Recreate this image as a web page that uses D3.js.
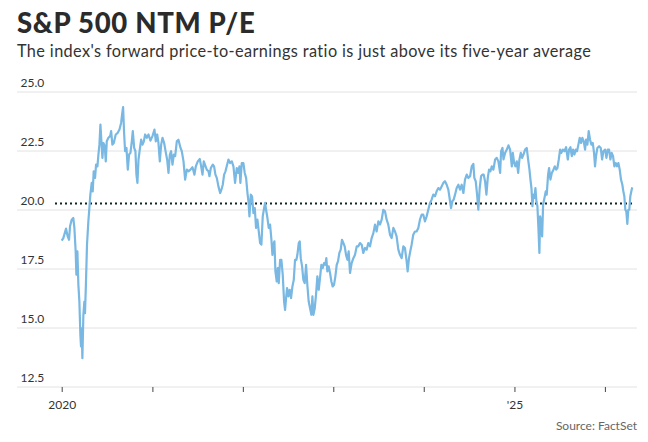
<!DOCTYPE html>
<html>
<head>
<meta charset="utf-8">
<script src="https://cdn.jsdelivr.net/npm/d3@7"></script>
<style>
    body { margin: 0; background: #fff; }
    svg { display: block; font-family: Lato, 'Open Sans', sans-serif; }
</style>
</head>
<body>
<div id="chart"></div>
<script>
const chartTitle = 'S&P 500 NTM P/E';
const chartSubtitle = "The index's forward price-to-earnings ratio is just above its five-year average";
const sourceNote = 'Source: FactSet';

const yTicks = [12.5, 15, 17.5, 20, 22.5, 25];
const xTickYears = [2020, 2021, 2022, 2023, 2024, 2025, 2026];
const xLabelYears = { 2020: '2020', 2025: "'25" };
const fiveYearAvg = 20.28;

// [decimal year, forward P/E]
const peSeries = [
    [2020.000, 18.70], [2020.018, 18.81], [2020.048, 19.21], [2020.066, 18.88], [2020.081, 18.74],
    [2020.092, 19.31], [2020.110, 19.59], [2020.128, 19.66], [2020.140, 19.24], [2020.154, 18.25],
    [2020.162, 17.26], [2020.173, 18.25], [2020.184, 16.83], [2020.195, 16.12], [2020.206, 14.71],
    [2020.213, 14.22], [2020.221, 14.99], [2020.228, 13.72], [2020.239, 15.56], [2020.250, 16.12],
    [2020.257, 15.63], [2020.268, 16.97], [2020.279, 18.53], [2020.294, 19.52], [2020.305, 20.08],
    [2020.316, 20.65], [2020.331, 21.15], [2020.342, 20.79], [2020.353, 21.64], [2020.368, 21.36],
    [2020.379, 21.92], [2020.394, 21.85], [2020.405, 22.35], [2020.416, 22.77], [2020.427, 23.62],
    [2020.438, 22.91], [2020.449, 22.21], [2020.460, 22.84], [2020.475, 22.70], [2020.486, 22.06],
    [2020.497, 22.91], [2020.515, 23.06], [2020.534, 23.13], [2020.545, 23.34], [2020.559, 22.77],
    [2020.574, 22.84], [2020.596, 23.20], [2020.618, 23.27], [2020.637, 23.41], [2020.655, 23.69],
    [2020.666, 24.05], [2020.677, 24.36], [2020.688, 23.27], [2020.699, 22.49], [2020.714, 22.63],
    [2020.729, 21.71], [2020.743, 22.35], [2020.758, 22.42], [2020.773, 22.91], [2020.784, 23.34],
    [2020.799, 22.63], [2020.813, 22.49], [2020.824, 21.50], [2020.835, 21.15], [2020.847, 22.14],
    [2020.861, 22.56], [2020.876, 22.98], [2020.891, 22.77], [2020.906, 22.91], [2020.920, 23.20],
    [2020.939, 23.06], [2020.957, 23.20], [2020.979, 22.94], [2021.001, 23.13], [2021.023, 23.41],
    [2021.038, 22.91], [2021.053, 23.20], [2021.067, 22.84], [2021.082, 22.06], [2021.097, 22.77],
    [2021.112, 23.06], [2021.130, 22.84], [2021.149, 22.42], [2021.163, 22.14], [2021.178, 21.57],
    [2021.193, 22.35], [2021.207, 22.49], [2021.222, 21.92], [2021.237, 22.35], [2021.252, 22.28],
    [2021.270, 22.91], [2021.288, 22.98], [2021.311, 22.63], [2021.325, 22.49], [2021.344, 22.06],
    [2021.362, 21.29], [2021.381, 21.71], [2021.399, 21.64], [2021.421, 21.71], [2021.443, 21.81],
    [2021.465, 21.50], [2021.480, 21.85], [2021.502, 22.06], [2021.524, 22.16], [2021.539, 21.85],
    [2021.554, 21.50], [2021.568, 22.06], [2021.601, 21.71], [2021.620, 21.64], [2021.631, 21.43],
    [2021.646, 21.78], [2021.668, 21.92], [2021.682, 21.85], [2021.697, 21.50], [2021.712, 21.36],
    [2021.730, 21.00], [2021.749, 20.72], [2021.763, 20.86], [2021.778, 21.07], [2021.793, 21.50],
    [2021.808, 21.64], [2021.822, 21.85], [2021.841, 22.14], [2021.859, 21.99], [2021.878, 22.06],
    [2021.896, 21.85], [2021.914, 21.15], [2021.933, 21.78], [2021.948, 21.57], [2021.962, 21.85],
    [2021.973, 21.15], [2021.988, 21.99], [2022.006, 21.99], [2022.021, 21.57], [2022.036, 21.36],
    [2022.051, 20.72], [2022.062, 20.37], [2022.073, 19.73], [2022.088, 20.65], [2022.102, 20.58],
    [2022.117, 19.87], [2022.132, 20.08], [2022.146, 19.24], [2022.161, 19.59], [2022.176, 19.09],
    [2022.191, 18.60], [2022.205, 18.53], [2022.220, 19.73], [2022.235, 20.08], [2022.246, 20.30],
    [2022.257, 20.01], [2022.272, 19.66], [2022.286, 19.24], [2022.301, 19.38], [2022.316, 18.74],
    [2022.327, 18.10], [2022.338, 18.53], [2022.349, 18.67], [2022.360, 17.40], [2022.375, 16.97],
    [2022.386, 17.54], [2022.397, 16.90], [2022.412, 17.89], [2022.426, 17.89], [2022.441, 17.26],
    [2022.456, 16.12], [2022.467, 15.77], [2022.478, 16.27], [2022.489, 16.69], [2022.504, 16.34],
    [2022.518, 16.62], [2022.533, 16.27], [2022.548, 16.76], [2022.563, 17.04], [2022.577, 17.89],
    [2022.592, 17.89], [2022.603, 18.10], [2022.618, 18.60], [2022.629, 18.67], [2022.640, 17.96],
    [2022.655, 17.61], [2022.669, 17.04], [2022.684, 16.90], [2022.699, 17.68], [2022.713, 16.83],
    [2022.728, 16.12], [2022.743, 15.84], [2022.758, 15.56], [2022.769, 16.34], [2022.780, 15.56],
    [2022.795, 15.84], [2022.809, 16.41], [2022.824, 17.19], [2022.839, 16.62], [2022.853, 17.11],
    [2022.868, 17.68], [2022.883, 17.54], [2022.898, 17.75], [2022.912, 17.68], [2022.923, 17.96],
    [2022.934, 17.40], [2022.949, 17.61], [2022.964, 17.33], [2022.979, 16.97], [2022.993, 16.76],
    [2023.008, 16.83], [2023.023, 17.19], [2023.038, 17.68], [2023.052, 17.82], [2023.067, 18.18],
    [2023.082, 18.32], [2023.096, 18.74], [2023.111, 18.60], [2023.126, 18.46], [2023.141, 18.10],
    [2023.156, 17.89], [2023.170, 18.25], [2023.185, 17.33], [2023.203, 17.75], [2023.222, 17.96],
    [2023.240, 18.10], [2023.259, 18.46], [2023.277, 18.46], [2023.295, 18.60], [2023.314, 18.53],
    [2023.332, 18.18], [2023.351, 18.39], [2023.369, 18.32], [2023.387, 18.60], [2023.406, 18.46],
    [2023.424, 18.81], [2023.443, 19.02], [2023.461, 19.38], [2023.479, 19.09], [2023.498, 19.52],
    [2023.516, 19.38], [2023.535, 19.59], [2023.553, 20.01], [2023.572, 19.94], [2023.590, 19.59],
    [2023.608, 19.38], [2023.627, 18.95], [2023.645, 18.81], [2023.664, 19.24], [2023.682, 19.09],
    [2023.700, 18.88], [2023.719, 18.32], [2023.737, 18.10], [2023.756, 17.96], [2023.774, 18.46],
    [2023.792, 18.39], [2023.811, 17.82], [2023.822, 17.40], [2023.837, 17.96], [2023.851, 18.25],
    [2023.866, 18.53], [2023.884, 18.95], [2023.903, 19.09], [2023.921, 19.09], [2023.940, 19.24],
    [2023.958, 19.59], [2023.977, 19.80], [2023.995, 19.80], [2024.013, 19.52], [2024.032, 19.73],
    [2024.050, 20.01], [2024.069, 20.30], [2024.087, 20.44], [2024.105, 20.65], [2024.124, 20.58],
    [2024.142, 20.79], [2024.161, 20.93], [2024.179, 20.86], [2024.197, 21.00], [2024.216, 21.15],
    [2024.234, 21.22], [2024.253, 21.07], [2024.271, 20.86], [2024.290, 20.37], [2024.301, 20.08],
    [2024.315, 20.37], [2024.330, 20.44], [2024.345, 20.65], [2024.363, 20.93], [2024.382, 21.07],
    [2024.400, 20.86], [2024.418, 21.07], [2024.437, 20.72], [2024.455, 21.29], [2024.474, 21.50],
    [2024.492, 21.36], [2024.511, 21.43], [2024.529, 21.85], [2024.547, 21.95], [2024.558, 21.36],
    [2024.573, 21.22], [2024.588, 20.65], [2024.602, 20.01], [2024.617, 20.93], [2024.632, 21.43],
    [2024.647, 21.50], [2024.661, 21.50], [2024.676, 21.22], [2024.691, 20.65], [2024.706, 21.36],
    [2024.720, 21.71], [2024.735, 21.64], [2024.750, 21.85], [2024.768, 21.71], [2024.787, 22.14],
    [2024.805, 22.21], [2024.823, 22.06], [2024.842, 21.57], [2024.853, 22.49], [2024.868, 22.63],
    [2024.879, 22.14], [2024.897, 22.42], [2024.916, 22.56], [2024.934, 22.74], [2024.952, 22.56],
    [2024.971, 21.85], [2024.982, 22.42], [2024.997, 21.99], [2025.011, 21.85], [2025.026, 22.06],
    [2025.041, 21.57], [2025.055, 22.14], [2025.070, 22.42], [2025.085, 22.21], [2025.100, 22.35],
    [2025.118, 22.56], [2025.136, 22.63], [2025.151, 22.14], [2025.166, 21.71], [2025.177, 21.29],
    [2025.188, 20.93], [2025.199, 20.16], [2025.210, 20.65], [2025.221, 20.51], [2025.232, 20.93],
    [2025.243, 20.37], [2025.254, 20.16], [2025.265, 19.24], [2025.276, 18.18], [2025.284, 19.73],
    [2025.295, 19.52], [2025.306, 18.88], [2025.317, 20.23], [2025.332, 20.51], [2025.346, 20.79],
    [2025.357, 20.65], [2025.372, 21.50], [2025.383, 21.78], [2025.398, 21.29], [2025.413, 21.57],
    [2025.431, 21.71], [2025.446, 21.85], [2025.461, 21.71], [2025.475, 21.78], [2025.490, 22.14],
    [2025.505, 22.56], [2025.519, 22.42], [2025.534, 22.56], [2025.553, 22.49], [2025.571, 22.66],
    [2025.590, 22.14], [2025.604, 22.56], [2025.619, 22.66], [2025.634, 22.28], [2025.648, 22.56],
    [2025.663, 22.35], [2025.678, 22.56], [2025.692, 22.49], [2025.707, 22.77], [2025.722, 23.06],
    [2025.737, 22.84], [2025.751, 23.06], [2025.766, 22.91], [2025.781, 22.56], [2025.792, 22.98],
    [2025.807, 22.77], [2025.821, 23.34], [2025.836, 22.98], [2025.851, 22.77], [2025.866, 22.84],
    [2025.880, 22.42], [2025.891, 21.85], [2025.902, 22.28], [2025.917, 22.63], [2025.936, 22.70],
    [2025.954, 22.63], [2025.969, 22.14], [2025.983, 22.49], [2026.002, 22.56], [2026.017, 22.21],
    [2026.031, 22.56], [2026.046, 22.56], [2026.061, 22.14], [2026.075, 22.42], [2026.090, 22.28],
    [2026.105, 21.85], [2026.120, 21.99], [2026.134, 21.85], [2026.149, 21.99], [2026.164, 21.71],
    [2026.178, 21.29], [2026.193, 21.07], [2026.204, 20.79], [2026.215, 20.58], [2026.226, 20.01],
    [2026.237, 19.94], [2026.248, 19.41], [2026.259, 20.01], [2026.270, 20.01], [2026.281, 20.58],
    [2026.296, 20.86], [2026.303, 20.96]
];

const width = 648;
const height = 442;
const margin = { top: 92, right: 16, bottom: 55, left: 55 };
const gridLeft = 17;

function yearToDate(y) {
    const whole = Math.floor(y);
    const start = new Date(whole, 0, 1);
    const end = new Date(whole + 1, 0, 1);
    return new Date(+start + (y - whole) * (end - start));
}

function drawChart() {
    const samples = peSeries.map(p => ({ date: yearToDate(p[0]), pe: p[1] }));

    const svg = d3.select('#chart').append('svg')
        .attr('width', width)
        .attr('height', height);

    svg.append('text')
        .attr('x', 17)
        .attr('y', 33)
        .attr('font-size', 27.5)
        .attr('font-weight', 900)
        .attr('letter-spacing', 0.7)
        .attr('fill', '#2b2b2b')
        .text(chartTitle);

    svg.append('text')
        .attr('x', 17)
        .attr('y', 57)
        .attr('font-size', 16.3)
        .attr('letter-spacing', 0.38)
        .attr('fill', '#333')
        .text(chartSubtitle);

    const x = d3.scaleTime()
        .domain([yearToDate(2019.926), d3.max(samples, s => s.date)])
        .range([margin.left, 632.3]);

    const y = d3.scaleLinear()
        .domain([12.5, 25])
        .range([height - margin.bottom, margin.top]);

    const grid = svg.append('g');
    grid.selectAll('line')
        .data(yTicks)
        .enter()
        .append('line')
        .attr('x1', gridLeft)
        .attr('x2', width - 11)
        .attr('y1', v => y(v))
        .attr('y2', v => y(v))
        .attr('stroke', '#e2e2e2')
        .attr('stroke-width', 1);

    grid.selectAll('text')
        .data(yTicks)
        .enter()
        .append('text')
        .attr('x', 20.5)
        .attr('y', v => y(v) - 5.5)
        .attr('font-size', 12)
        .attr('fill', '#333')
        .text(d3.format('.1f'));

    const xAxis = d3.axisBottom(x)
        .tickValues(xTickYears.map(yr => new Date(yr, 0, 1)))
        .tickSize(5)
        .tickFormat(d => xLabelYears[d.getFullYear()] || '');
    const xAxisGroup = svg.append('g')
        .attr('transform', 'translate(0, ' + y(12.5) + ')')
        .call(xAxis);
    xAxisGroup.select('.domain').remove();
    xAxisGroup.selectAll('.tick line').attr('stroke', '#444');
    xAxisGroup.selectAll('.tick text')
        .attr('font-family', 'Lato, sans-serif')
        .attr('font-size', 12)
        .attr('fill', '#333')
        .attr('dy', '1.15em');

    // five-year average
    svg.append('line')
        .attr('x1', x.range()[0])
        .attr('x2', x.range()[1])
        .attr('y1', y(fiveYearAvg))
        .attr('y2', y(fiveYearAvg))
        .attr('stroke', '#0f2424')
        .attr('stroke-width', 2)
        .attr('stroke-dasharray', '2,3');

    const line = d3.line()
        .x(s => x(s.date))
        .y(s => y(s.pe));

    svg.append('path')
        .datum(samples)
        .attr('d', line)
        .attr('fill', 'none')
        .attr('stroke', '#78b8e2')
        .attr('stroke-width', 2.2)
        .attr('stroke-linejoin', 'round');

    svg.append('text')
        .attr('x', width - 11)
        .attr('y', 430)
        .attr('text-anchor', 'end')
        .attr('font-size', 12)
        .attr('fill', '#666')
        .text(sourceNote);
}

drawChart();
</script>
</body>
</html>
